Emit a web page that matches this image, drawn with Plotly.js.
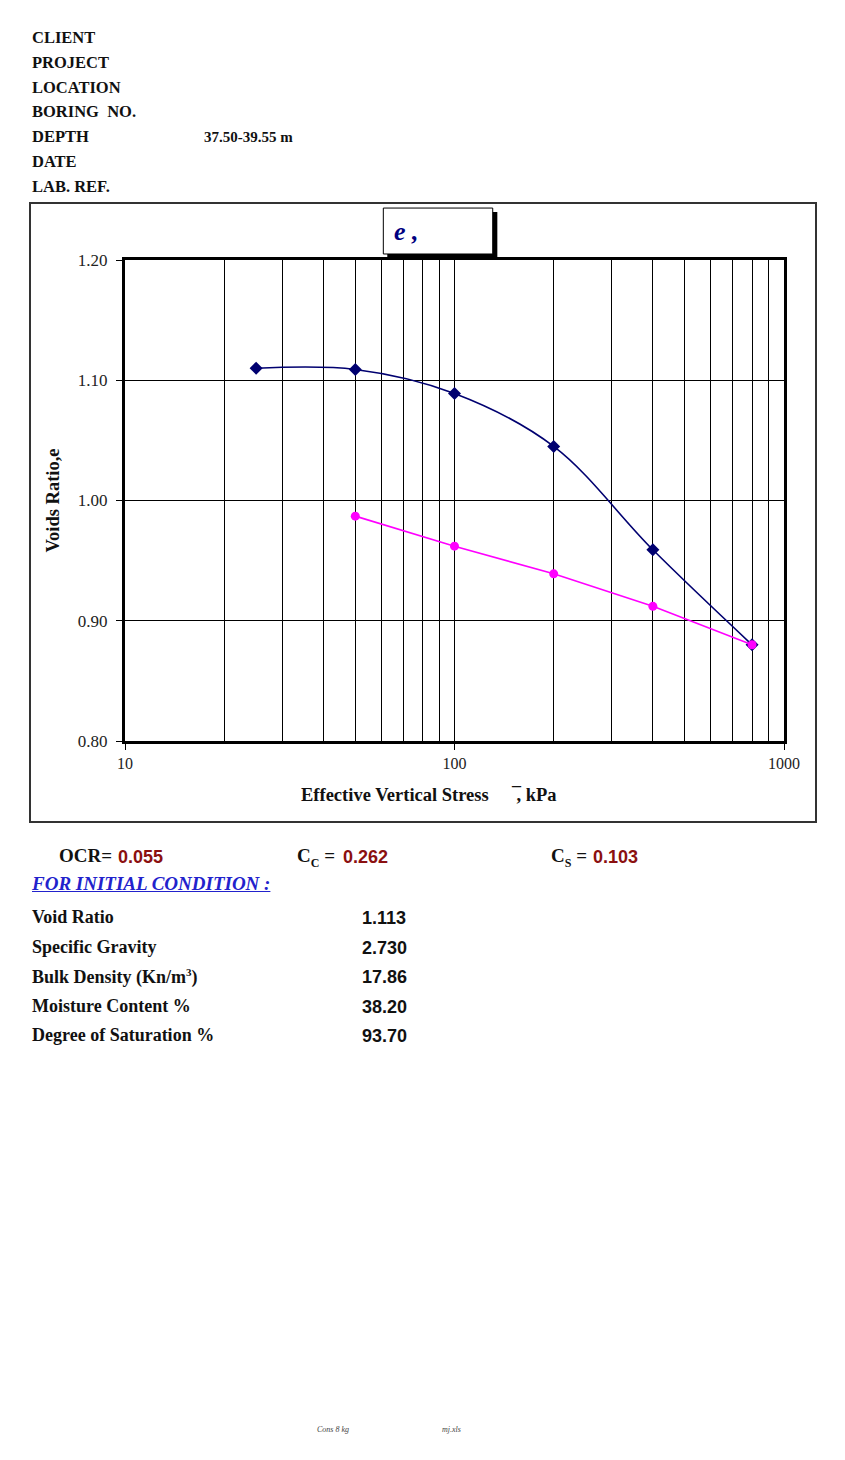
<!DOCTYPE html>
<html>
<head>
<meta charset="utf-8">
<script src="https://cdn.plot.ly/plotly-3.0.1.min.js"></script>
<style>
  body { margin: 0; background: #fff; width: 845px; height: 1460px; position: relative; font-family: "Liberation Serif", "DejaVu Serif", serif; }
  .t { position: absolute; font-weight: bold; font-size: 18px; color: #111; white-space: pre; line-height: 1; }
  .v { position: absolute; font-family: "Liberation Sans", Arial, sans-serif; font-weight: bold; font-size: 18px; color: #111; white-space: nowrap; line-height: 1; }
  .red { position: absolute; font-family: "Liberation Sans", Arial, sans-serif; font-weight: bold; font-size: 18px; color: #8b1010; white-space: nowrap; line-height: 1; }
  #frame { position: absolute; left: 29px; top: 202px; width: 788px; height: 621px; border: 2px solid #333; box-sizing: border-box; }
  .foot { position: absolute; font-family: "Liberation Serif", serif; font-style: italic; font-size: 8px; color: #444; white-space: nowrap; }
</style>
</head>
<body>

<div id="header"></div>
<div id="frame"><div id="chart"></div></div>
<div id="stats"></div>

<script>
// header fields
var headLabels = ["CLIENT", "PROJECT", "LOCATION", "BORING  NO.", "DEPTH", "DATE", "LAB. REF."];
var headValues = ["", "", "", "", "37.50-39.55 m", "", ""];

// loading curve (blue) and unloading curve (pink)
var loadStress = [25, 50, 100, 200, 400, 800];
var loadVoid = [1.110, 1.109, 1.089, 1.045, 0.959, 0.880];
var unloadStress = [50, 100, 200, 400, 800];
var unloadVoid = [0.987, 0.962, 0.939, 0.912, 0.880];

var xTickVals = [10, 100, 1000];
var xTickText = ["10", "100", "1000"];
var xMinorVals = [20, 30, 40, 50, 60, 70, 80, 90, 200, 300, 400, 500, 600, 700, 800, 900];
var yTickVals = [0.80, 0.90, 1.00, 1.10, 1.20];

// initial condition table
var initLabels = ["Void Ratio", "Specific Gravity", "Bulk Density (Kn/m<sup style='font-size:11px'>3</sup>)", "Moisture Content %", "Degree of Saturation %"];
var initValues = ["1.113", "2.730", "17.86", "38.20", "93.70"];
var ocr = "0.055", cc = "0.262", cs = "0.103";

var header = document.getElementById("header");
var html = "";
for (var i = 0; i < headLabels.length; i++) {
    var rowTop = 30 + i * 24.8;
    html += "<div class='t' style='left:32px;top:" + rowTop + "px;font-size:16.5px'>" + headLabels[i] + "</div>";
    if (headValues[i] != "") {
        html += "<div class='t' style='left:204px;top:" + (rowTop + 1) + "px;font-size:15px'>" + headValues[i] + "</div>";
    }
}
header.innerHTML = html;

var s = "";
s += "<div class='t' style='left:59px;top:846px;font-size:19px'>OCR=</div>";
s += "<div class='red' style='left:118px;top:848px'>" + ocr + "</div>";
s += "<div class='t' style='left:297px;top:846px;font-size:19px'>C<sub style='font-size:12px'>C</sub> = </div>";
s += "<div class='red' style='left:343px;top:848px'>" + cc + "</div>";
s += "<div class='t' style='left:551px;top:846px;font-size:19px'>C<sub style='font-size:12px'>S</sub> = </div>";
s += "<div class='red' style='left:593px;top:848px'>" + cs + "</div>";
s += "<div class='t' style='left:32px;top:874px;font-size:19px;font-style:italic;color:#2222cc;text-decoration:underline'>FOR INITIAL CONDITION :</div>";
for (var j = 0; j < initLabels.length; j++) {
    var ty = 908 + j * 29.6;
    s += "<div class='t' style='left:32px;top:" + ty + "px'>" + initLabels[j] + "</div>";
    s += "<div class='v' style='left:362px;top:" + (ty + 1) + "px'>" + initValues[j] + "</div>";
}
s += "<div class='foot' style='left:317px;top:1425px'>Cons 8 kg</div>";
s += "<div class='foot' style='left:442px;top:1425px'>mj.xls</div>";
document.getElementById("stats").innerHTML = s;

var trace1 = {
    type: "scatter",
    mode: "lines+markers",
    x: loadStress,
    y: loadVoid,
    line: {color: "#000070", width: 1.6, shape: "spline", smoothing: 1},
    marker: {symbol: "diamond", size: 10, color: "#000070"},
    cliponaxis: false
};
var trace2 = {
    type: "scatter",
    mode: "lines+markers",
    x: unloadStress,
    y: unloadVoid,
    line: {color: "#ff00ff", width: 1.6},
    marker: {symbol: "circle", size: 9, color: "#ff00ff"},
    cliponaxis: false
};

var axisFont = {family: "Liberation Serif, serif", size: 17, color: "#222"};

var layout = {
    width: 784,
    height: 617,
    margin: {l: 94, r: 31, t: 56, b: 80},
    paper_bgcolor: "#fff",
    plot_bgcolor: "#fff",
    showlegend: false,
    xaxis: {
        type: "log",
        range: [1, 3],
        tickmode: "array",
        tickvals: xTickVals,
        ticktext: xTickText,
        ticks: "outside",
        ticklen: 6,
        tickcolor: "#000",
        tickfont: {family: "Liberation Serif, serif", size: 16, color: "#222"},
        showgrid: true,
        gridcolor: "#000",
        gridwidth: 1,
        minor: {tickmode: "array", tickvals: xMinorVals, showgrid: true, gridcolor: "#000", gridwidth: 1, ticks: ""},
        showline: true,
        linewidth: 3,
        linecolor: "#000",
        mirror: true,
        zeroline: false
    },
    yaxis: {
        range: [0.8, 1.2],
        tickmode: "array",
        tickvals: yTickVals,
        tickformat: ".2f",
        ticks: "outside",
        ticklen: 6,
        tickcolor: "#000",
        tickfont: axisFont,
        ticklabelstandoff: 5,
        showgrid: true,
        gridcolor: "#000",
        gridwidth: 1,
        showline: true,
        linewidth: 3,
        linecolor: "#000",
        mirror: true,
        zeroline: false,
        title: {text: "<b>Voids Ratio,e</b>", font: {family: "Liberation Serif, serif", size: 18.5, color: "#111"}, standoff: 14}
    },
    shapes: [
        // title box shadow and box
        {type: "rect", xref: "paper", yref: "paper", x0: 0.398, x1: 0.565, y0: 1.004, y1: 1.1, fillcolor: "#000", line: {width: 0}, layer: "above"},
        {type: "rect", xref: "paper", yref: "paper", x0: 0.392, x1: 0.558, y0: 1.0125, y1: 1.108, fillcolor: "#fff", line: {color: "#000", width: 1}, layer: "above"}
    ],
    annotations: [
        {xref: "paper", yref: "paper", x: 0.405, y: 1.06, xanchor: "left", yanchor: "middle", showarrow: false,
         text: "<b><i>e ,</i></b>", font: {family: "Liberation Serif, serif", size: 26, color: "#000080"}},
        {xref: "paper", yref: "paper", x: 0.462, y: 0, yshift: -54, xanchor: "center", yanchor: "middle", showarrow: false,
         text: "<b>Effective Vertical Stress      \u0305, kPa</b>", font: {family: "Liberation Serif, serif", size: 18.5, color: "#111"}}
    ]
};

Plotly.newPlot("chart", [trace1, trace2], layout, {displayModeBar: false, staticPlot: true});
</script>
</body>
</html>
